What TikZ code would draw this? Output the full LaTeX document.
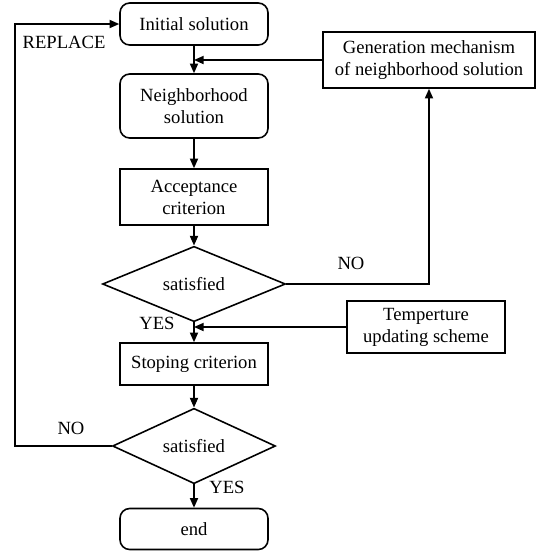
\documentclass[tikz,border=0pt]{standalone}
\usepackage{fontspec}
\setmainfont{Liberation Serif}
\usetikzlibrary{arrows.meta, positioning, shapes.geometric}

\begin{document}
\begin{tikzpicture}[
  x=0.02cm, y=0.02cm,
  every node/.style={font=\fontsize{10.6}{12.5}\selectfont},
  box/.style={draw, line width=0.9pt, minimum width=2.96cm, align=center, inner sep=2pt},
  rbox/.style={box, rounded corners=5.5pt},
  test/.style={draw, diamond, line width=0.9pt, inner sep=0pt},
  arr/.style={-{Triangle[length=5.5pt, width=4.6pt]}, line width=0.9pt},
  lbl/.style={inner sep=0pt}
]
  \useasboundingbox (0,0) rectangle (536,-552);

  \node[rbox, minimum height=0.84cm] (init)  at (194, -24)  {Initial solution};
  \node[rbox, minimum height=1.28cm] (neigh) at (194, -106) {Neighborhood\\solution};
  \node[box,  minimum height=1.12cm] (accept) at (194, -197) {Acceptance\\criterion};
  \node[test, minimum width=3.66cm, minimum height=1.34cm] (sat1) at (194, -284) {satisfied};
  \node[box,  minimum height=0.84cm] (stop)  at (194, -364) {Stoping criterion};
  \node[test, minimum width=3.26cm, minimum height=1.28cm] (sat2) at (194, -446) {satisfied};
  \node[rbox, minimum height=0.82cm] (end)   at (194, -529) {end};

  \node[box, minimum width=4.24cm, minimum height=1.12cm] (gen)  at (429, -60)
    {Generation mechanism\\of neighborhood solution};
  \node[box, minimum width=3.16cm, minimum height=1.04cm] (temp) at (426, -327)
    {Temperture\\updating scheme};

  \coordinate (j1)   at (194, -60);
  \coordinate (j2)   at (194, -327);
  \coordinate (back) at (15, -24);

  \draw[arr] (init)   -- (neigh);
  \draw[arr] (neigh)  -- (accept);
  \draw[arr] (accept) -- (sat1);
  \draw[arr] (sat1)   -- (stop);
  \draw[arr] (stop)   -- (sat2);
  \draw[arr] (sat2)   -- (end);

  \draw[arr] (gen.west)  -- (j1);
  \draw[arr] (temp.west) -- (j2);
  \draw[arr] (sat1.east) -| (gen.south);
  \draw[arr] (sat2.west) -| (back) -- (init.west);

  \node[lbl] (no1)     at (351, -263) {NO};
  \node[lbl] (yes1)    at (157, -323) {YES};
  \node[lbl] (no2)     at (71, -428)  {NO};
  \node[lbl] (yes2)    at (227, -487) {YES};
  \node[lbl] (replace) at (64, -42)   {REPLACE};
\end{tikzpicture}
\end{document}
